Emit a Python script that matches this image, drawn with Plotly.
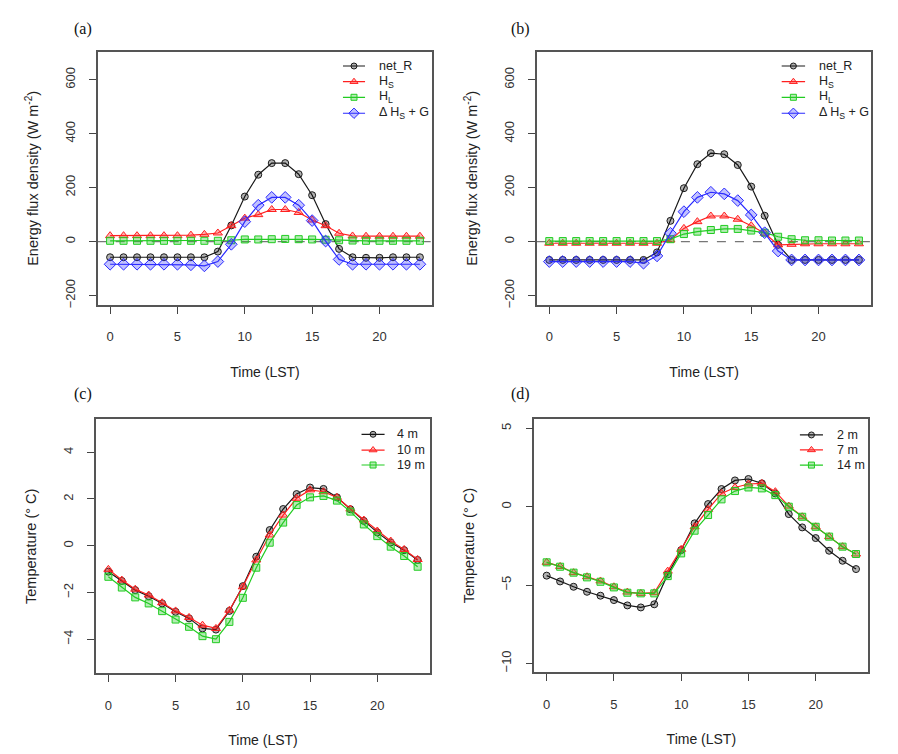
import plotly.graph_objects as go

# ---------------- data ----------------
hours = list(range(24))

# (a) energy fluxes, site 1 (W m-2)
netR_a = [-58, -58, -58, -58, -58, -58, -58, -58, -37, 60, 167, 248, 291, 291, 250, 172, 65, -27, -58, -60, -60, -58, -58, -58]
HS_a = [22, 22, 22, 22, 22, 22, 24, 27, 32, 59, 87, 100, 119, 119, 108, 80, 59, 31, 21, 20, 20, 20, 20, 20]
HL_a = [3, 3, 3, 3, 3, 3, 3, 3, 3, 5, 8, 8, 9, 10, 9, 8, 7, 5, 4, 3, 3, 3, 3, 3]
DHG_a = [-84, -84, -84, -84, -84, -84, -86, -90, -74, -10, 74, 135, 164, 164, 135, 78, 2, -66, -84, -84, -84, -84, -84, -84]

# (b) energy fluxes, site 2 (W m-2)
netR_b = [-68, -68, -68, -68, -68, -68, -68, -68, -40, 77, 198, 287, 328, 324, 284, 204, 96, -12, -68, -68, -68, -68, -68, -68]
HS_b = [-6, -6, -6, -6, -6, -6, -6, -6, -6, 6, 49, 74, 95, 95, 83, 59, 31, -12, -10, -8, -8, -8, -8, -8]
HL_b = [2, 2, 2, 2, 2, 2, 2, 2, 2, 9, 28, 37, 43, 47, 47, 41, 33, 18, 9, 5, 5, 4, 4, 4]
DHG_b = [-74, -74, -74, -74, -74, -74, -74, -80, -53, 31, 111, 164, 183, 177, 152, 99, 33, -35, -68, -68, -68, -68, -68, -68]

# (c) temperatures, site 1 (deg C)
T4_c = [-1.11, -1.51, -1.90, -2.16, -2.47, -2.83, -3.11, -3.54, -3.59, -2.79, -1.73, -0.47, 0.67, 1.57, 2.21, 2.49, 2.43, 2.07, 1.56, 1.06, 0.57, 0.14, -0.19, -0.61]
T10_c = [-1.01, -1.47, -1.86, -2.11, -2.44, -2.79, -3.07, -3.40, -3.54, -2.76, -1.76, -0.61, 0.46, 1.31, 2.03, 2.39, 2.31, 2.07, 1.57, 1.10, 0.63, 0.20, -0.16, -0.59]
T19_c = [-1.33, -1.79, -2.21, -2.47, -2.80, -3.16, -3.47, -3.87, -4.00, -3.26, -2.23, -0.94, 0.13, 0.99, 1.74, 2.07, 2.13, 1.93, 1.46, 0.91, 0.41, -0.04, -0.44, -0.90]

# (d) temperatures, site 2 (deg C)
T2_d = [-4.40, -4.77, -5.11, -5.43, -5.68, -5.96, -6.30, -6.43, -6.23, -4.32, -2.77, -1.06, 0.17, 1.13, 1.68, 1.77, 1.49, 0.85, -0.47, -1.32, -2.00, -2.81, -3.45, -3.98]
T7_d = [-3.55, -3.81, -4.21, -4.47, -4.74, -5.11, -5.45, -5.53, -5.49, -4.11, -2.72, -1.28, -0.17, 0.85, 1.23, 1.45, 1.49, 0.96, 0.04, -0.64, -1.28, -1.91, -2.55, -3.02]
T14_d = [-3.55, -3.83, -4.21, -4.51, -4.79, -5.15, -5.49, -5.53, -5.53, -4.43, -2.98, -1.53, -0.53, 0.47, 1.00, 1.23, 1.17, 0.74, 0.00, -0.64, -1.28, -1.91, -2.55, -3.02]

flux_names = ["net_R", "H<sub>S</sub>", "H<sub>L</sub>", "Δ H<sub>S</sub> + G"]
temp_names_c = ["4 m", "10 m", "19 m"]
temp_names_d = ["2 m", "7 m", "14 m"]
panel_labels = ["(a)", "(b)", "(c)", "(d)"]
x_ticks = [0, 5, 10, 15, 20]
y_ticks_flux = [-200, 0, 200, 400, 600]
y_ticks_c = [-4, -2, 0, 2, 4]
y_ticks_d = [-10, -5, 0, 5]

# ---------------- styles ----------------
STY = [
    dict(color="#1a1a1a", fill="rgba(0,0,0,0.30)", symbol="circle", size=7),
    dict(color="#ff2020", fill="rgba(255,40,40,0.35)", symbol="triangle-up", size=8),
    dict(color="#22cc22", fill="rgba(40,200,40,0.35)", symbol="square", size=7),
    dict(color="#2a2aff", fill="rgba(50,50,255,0.30)", symbol="diamond", size=9),
]
SANS = "Liberation Sans, Arial, sans-serif"
SERIF = "Liberation Serif, Times New Roman, serif"
W, H = 898, 754
XR = [-0.92, 23.92]

fig = go.Figure()

# panel geometry in pixels (left, right, top, bottom)
boxes = [
    (97.7, 432.3, 51.7, 305.0),
    (536.9, 871.3, 51.7, 305.0),
    (96.0, 430.0, 419.3, 673.3),
    (534.3, 868.4, 419.0, 672.3),
]
yranges = [[-235, 704], [-235, 704], [-5.46, 5.41], [-10.57, 5.6]]
yticks = [y_ticks_flux, y_ticks_flux, y_ticks_c, y_ticks_d]
ytitles = ["Energy flux density (W m<sup>-2</sup>)", "Energy flux density (W m<sup>-2</sup>)",
           "Temperature (° C)", "Temperature (° C)"]
series = [
    [netR_a, HS_a, HL_a, DHG_a],
    [netR_b, HS_b, HL_b, DHG_b],
    [T4_c, T10_c, T19_c],
    [T2_d, T7_d, T14_d],
]
names = [flux_names, flux_names, temp_names_c, temp_names_d]
# legend placement (fractions of the plot box)
leg_geom = [
    dict(x0=0.733, x1=0.799, xt=0.834, ys=[0.9435, 0.8816, 0.820, 0.757]),
    dict(x0=0.732, x1=0.802, xt=0.837, ys=[0.9435, 0.8816, 0.820, 0.757]),
    dict(x0=0.795, x1=0.864, xt=0.895, ys=[0.941, 0.879, 0.820]),
    dict(x0=0.795, x1=0.864, xt=0.899, ys=[0.937, 0.878, 0.818]),
]
label_pos = [(83, 29), (520, 29), (83, 394), (520, 394)]


def frac(r, f):
    return r[0] + f * (r[1] - r[0])


layout = dict(
    width=W, height=H, margin=dict(l=0, r=0, t=0, b=0),
    paper_bgcolor="white", plot_bgcolor="white",
    showlegend=False, font=dict(family=SANS, size=12, color="#222"),
)
annotations = []
shapes = []

for p in range(4):
    L, R, T, B = boxes[p]
    xd = [L / W, R / W]
    yd = [1 - B / H, 1 - T / H]
    sfx = "" if p == 0 else str(p + 1)
    xr, yr = "x" + sfx, "y" + sfx
    YR = yranges[p]
    layout["xaxis" + sfx] = dict(domain=xd, anchor=yr, range=XR, tickvals=x_ticks,
                                 ticks="outside", ticklen=7, tickwidth=1.2, tickcolor="#444",
                                 showline=True, mirror=True, linecolor="#555", linewidth=1.5,
                                 showgrid=False, zeroline=False, automargin=False,
                                 ticklabelstandoff=12, tickfont=dict(size=13, color="#333"),
                                 title=dict(text="Time (LST)", font=dict(size=14, color="#222"), standoff=24))
    layout["yaxis" + sfx] = dict(domain=yd, anchor=xr, range=YR, tickvals=yticks[p],
                                 ticks="outside", ticklen=7, tickwidth=1.2, tickcolor="#444",
                                 showline=True, mirror=True, linecolor="#555", linewidth=1.5,
                                 showgrid=False, zeroline=False, automargin=False, tickangle=-90,
                                 ticklabelstandoff=9, tickfont=dict(size=13, color="#333"),
                                 title=dict(text=ytitles[p], font=dict(size=14.5, color="#222"), standoff=21))

    if p < 2:
        shapes.append(dict(type="line", xref=xr + " domain", yref=yr, x0=0, x1=1, y0=0, y1=0,
                           line=dict(color="#777", width=1.3, dash="dash"), layer="below"))

    g = leg_geom[p]
    for k, (vals, nm) in enumerate(zip(series[p], names[p])):
        s = STY[k]
        fig.add_trace(go.Scatter(
            x=hours, y=vals, mode="lines+markers", name=nm, xaxis=xr, yaxis=yr,
            line=dict(color=s["color"], width=1.2),
            marker=dict(symbol=s["symbol"], size=s["size"], color=s["fill"],
                        line=dict(color=s["color"], width=1)),
        ))
        # legend key (line + marker) in the top-right corner of the box
        yk = frac(YR, g["ys"][k])
        lx0, lx1 = frac(XR, g["x0"]), frac(XR, g["x1"])
        fig.add_trace(go.Scatter(x=[lx0, lx1], y=[yk, yk], mode="lines", xaxis=xr, yaxis=yr,
                                 line=dict(color=s["color"], width=1.2), hoverinfo="skip"))
        fig.add_trace(go.Scatter(x=[(lx0 + lx1) / 2], y=[yk], mode="markers", xaxis=xr, yaxis=yr,
                                 marker=dict(symbol=s["symbol"], size=s["size"] - 1, color=s["fill"],
                                             line=dict(color=s["color"], width=1)), hoverinfo="skip"))
        annotations.append(dict(x=frac(XR, g["xt"]), y=yk, xref=xr, yref=yr, text=nm, showarrow=False,
                                xanchor="left", yanchor="middle",
                                font=dict(family=SANS, size=12.5, color="#222")))

    lx, ly = label_pos[p]
    annotations.append(dict(x=lx / W, y=1 - ly / H, xref="paper", yref="paper", text=panel_labels[p],
                            showarrow=False, xanchor="center", yanchor="middle",
                            font=dict(family=SERIF, size=16, color="#111")))

layout["annotations"] = annotations
layout["shapes"] = shapes
fig.update_layout(**layout)
fig.write_html("out.html")
